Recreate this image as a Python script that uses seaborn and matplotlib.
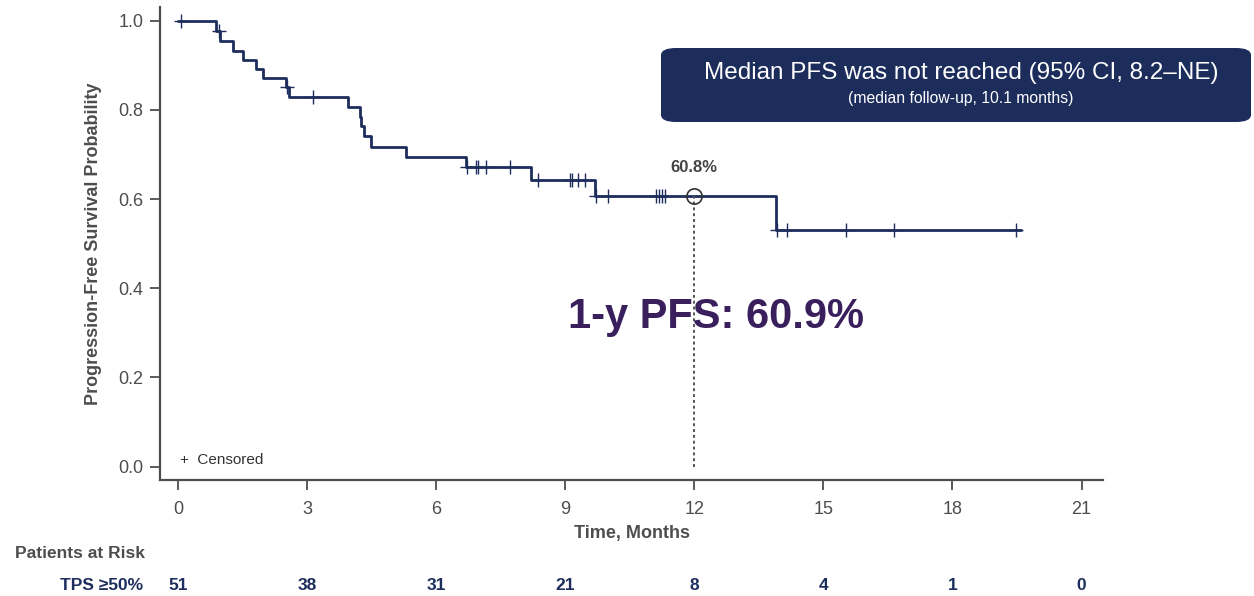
import numpy as np
import pandas as pd
import matplotlib as mpl
mpl.use('Agg')
import matplotlib.pyplot as plt
from matplotlib.patches import FancyBboxPatch
import seaborn as sns

# step curve (time in months, survival level after the step)
step_times = [0, 0.88, 0.97, 1.27, 1.52, 1.80, 1.97, 2.51, 2.58, 3.96, 4.23, 4.25,
              4.32, 4.48, 5.30, 6.69, 8.20, 9.70, 13.89, 19.60]
step_surv = [1.0, 0.976, 0.954, 0.933, 0.912, 0.892, 0.872, 0.851, 0.830, 0.806, 0.785,
             0.763, 0.741, 0.717, 0.694, 0.671, 0.642, 0.606, 0.531, 0.531]
censor_times = [0.06, 0.96, 2.54, 3.13, 6.72, 6.93, 6.98, 7.15, 7.71, 8.37, 9.12, 9.16,
                9.30, 9.46, 9.72, 10.0, 11.10, 11.17, 11.24, 11.31, 13.93, 14.16,
                15.53, 16.64, 19.48]
risk_times = [0, 3, 6, 9, 12, 15, 18, 21]
at_risk = [51, 38, 31, 21, 8, 4, 1, 0]
mark_time = 12
mark_surv = 0.608

navy = '#1d2d5c'
grey = '#4d4d4d'
narrow = ['Liberation Sans', 'DejaVu Sans']

sns.set_style('ticks')
plt.rcParams['font.family'] = ['Liberation Sans', 'DejaVu Sans']

curve = pd.DataFrame({'time': step_times, 'surv': step_surv})
cidx = np.searchsorted(step_times, censor_times, side='right') - 1
cens = pd.DataFrame({'time': censor_times, 'surv': np.array(step_surv)[cidx]})

fig = plt.figure(figsize=(12.54, 5.96), dpi=100)
ax = fig.add_axes([0.1276, 0.1946, 0.752, 0.793])

sns.lineplot(data=curve, x='time', y='surv', drawstyle='steps-post', color=navy,
             lw=2.0, ax=ax)
sns.scatterplot(data=cens, x='time', y='surv', marker='+', s=110, color=navy,
                linewidth=1.0, ax=ax, zorder=3)

# 12-month marker
ax.plot([mark_time, mark_time], [0, mark_surv], ls=(0, (1.5, 1.5)), color='#555555', lw=1.4)
ax.plot(mark_time, mark_surv, 'o', ms=11, mfc='none', mec='#333333', mew=1.2, zorder=4)
ax.text(mark_time, mark_surv + 0.045, '60.8%', ha='center', va='bottom', fontsize=12,
        fontweight='bold', color='#444444', family=narrow)

ax.set_xlim(-0.42, 21.5)
ax.set_ylim(-0.03, 1.03)
ax.set_xticks(risk_times)
ax.set_yticks([0, 0.2, 0.4, 0.6, 0.8, 1.0])
ax.set_yticklabels(['0.0', '0.2', '0.4', '0.6', '0.8', '1.0'])
for lab in ax.get_xticklabels() + ax.get_yticklabels():
    lab.set_family(narrow)
    lab.set_fontsize(13)
    lab.set_color(grey)
ax.tick_params(axis='both', length=7, width=1.3, color=grey, pad=5)
ax.tick_params(axis='x', pad=8)
for sp in ['left', 'bottom']:
    ax.spines[sp].set_color(grey)
    ax.spines[sp].set_linewidth(1.6)
sns.despine(ax=ax)

ax.set_xlabel('Time, Months', fontsize=13, fontweight='bold', color=grey, family=narrow,
              labelpad=5)
ax.set_ylabel('Progression-Free Survival Probability', fontsize=13, fontweight='bold',
              color=grey, family=narrow, labelpad=12)

# censored legend
ax.text(0.05, 0.015, '+  Censored', ha='left', va='center', fontsize=11, color='#333333',
        family=narrow)

# big annotation
ax.text(12.5, 0.335, '1-y PFS: 60.9%', ha='center', va='center', fontsize=30,
        fontweight='bold', color='#3a1f5d')

# median box
box = FancyBboxPatch((661 / 1254, 1 - 122 / 596), 590 / 1254, 74 / 596,
                     boxstyle='round,pad=0,rounding_size=0.012', transform=fig.transFigure,
                     facecolor='#1c2d5c', edgecolor='none')
fig.patches.append(box)
fig.text(961 / 1254, 1 - 73 / 596, 'Median PFS was not reached (95% CI, 8.2\u2013NE)',
         ha='center', va='center', fontsize=17.5, color='white')
fig.text(961 / 1254, 1 - 98 / 596, '(median follow-up, 10.1 months)',
         ha='center', va='center', fontsize=11.3, color='white')

# patients at risk
fig.text(15 / 1254, 1 - 553 / 596, 'Patients at Risk', ha='left', va='center', fontsize=12.5,
         fontweight='bold', color=grey, family=narrow)
fig.text(143 / 1254, 1 - 585 / 596, 'TPS \u226550%', ha='right', va='center', fontsize=12.5,
         fontweight='bold', color=navy, family=narrow)
for t, n in zip(risk_times, at_risk):
    xf = ax.transData.transform((t, 0))[0] / fig.bbox.width
    fig.text(xf, 1 - 585 / 596, str(n), ha='center', va='center', fontsize=12.5,
             fontweight='bold', color=navy, family=narrow)

fig.savefig('out.png', dpi=100)
